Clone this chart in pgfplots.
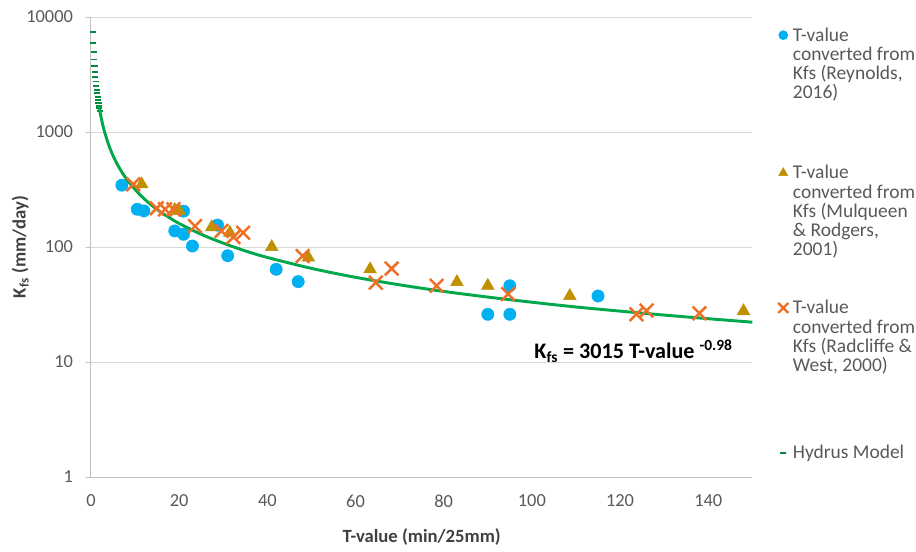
\documentclass[border=0pt]{standalone}
\usepackage{pgfplots}
\pgfplotsset{compat=1.18}
\usepackage{fontspec}
\setmainfont{Carlito}

\definecolor{reyblue}{RGB}{0,176,240}
\definecolor{mulgold}{RGB}{191,144,0}
\definecolor{radorange}{RGB}{237,112,40}
\definecolor{hydgreen}{RGB}{0,168,75}
\definecolor{hyddark}{RGB}{0,140,60}
\definecolor{gridgray}{RGB}{217,217,217}
\definecolor{axisgray}{RGB}{191,191,191}
\definecolor{ticktext}{RGB}{89,89,89}
\definecolor{labeltext}{RGB}{64,64,64}

% measured infiltration data (T-value in min/25mm, Kfs in mm/day)
\pgfplotstableread{
T     K
7     345
10.5  213
12    206
21    205
19    138
21    129
23    102
28.7  155
31    84
42    64
47    50
90    26
95    26
95    46
115   37.5
}\reynolds

\pgfplotstableread{
T     K
11.5  351
19    210
20    206
27.4  149
31.5  133
41    100
49.3  81
63.3  64
83    49.6
90    46
108.6 37.5
148   27.7
}\mulqueen

\pgfplotstableread{
T     K
9.6   351
14.9  217
16.8  213
18.7  213
23.6  152
29.6  138
32.3  122
34.5  133
48    83.5
64.6  49
68.2  65
78.4  46
94.6  39
123.7 26
126   28
138   26.5
}\radcliffe

% one legend row per text line; the last line of an entry carries the gap below it
\newcommand{\legline}[1]{\addlegendimage{empty legend}\addlegendentry{#1}}
\newcommand{\leglast}[2]{\addlegendimage{empty legend}\addlegendentry[text depth=#1]{#2}}

\begin{document}
\begin{tikzpicture}
\path[use as bounding box] (-68.25pt,-55.5pt) rectangle (618.75pt,357.75pt);
\begin{axis}[
  scale only axis,
  width=496pt, height=345pt,
  xmin=0, xmax=150, ymin=1, ymax=10000,
  ymode=log,
  xtick={0,20,...,140},
  ytick={1,10,100,1000,10000},
  yticklabels={1,10,100,1000,10000},
  yminorticks=false,
  axis x line*=bottom, axis y line*=left,
  axis line style={axisgray, line width=0.75pt, -},
  tick align=outside,
  xtick style={draw=none},
  ytick style={axisgray, line width=0.75pt},
  major tick length=4pt,
  ymajorgrids,
  grid style={gridgray, line width=0.75pt},
  /pgf/number format/assume math mode=true,
  tick label style={font=\fontsize{13.8}{15}\selectfont, text=ticktext},
  xticklabel style={yshift=-6pt},
  yticklabel style={xshift=-6pt},
  xlabel={T-value (min/25mm)},
  ylabel={K\textsubscript{fs} (mm/day)},
  label style={font=\bfseries\fontsize{14}{16}\selectfont, text=labeltext},
  xlabel style={at={(axis description cs:0.5,-0.13)}, anchor=center},
  ylabel style={at={(axis description cs:-0.107,0.5)}, anchor=center},
  clip mode=individual,
  legend style={
    at={(axis description cs:1,1)}, anchor=north west,
    xshift=19pt, yshift=-7.8pt,
    draw=none, fill=none, inner sep=0pt,
    row sep=0pt, column sep=3.5pt,
    font=\fontsize{14.6}{14.44}\selectfont,
    cells={anchor=base west},
    nodes={inner sep=0pt, text=ticktext, text height=10.11pt, text depth=4.33pt},
  },
  legend image code/.code={
    \draw[mark repeat=2, mark phase=2, yshift=4.5pt]
      plot coordinates {(0pt,0pt) (4pt,0pt) (8pt,0pt)};
  },
]

\addplot[only marks, mark=*, mark size=4.6pt, reyblue,
  legend image post style={mark size=3.4pt}]
  table[x=T, y=K] {\reynolds};
\addlegendentry{T-value}
\legline{converted from}
\legline{Kfs (Reynolds,}
\leglast{49.9pt}{2016)}

% Hydrus model curve: separate dashes near the origin, a solid band further on
\addplot[forget plot, only marks, mark=-, mark size=2.3pt, line width=1.3pt, hyddark]
  coordinates {
  (0.4,7401) (0.5,5947) (0.6,4974) (0.7,4277) (0.8,3752) (0.9,3343)
  (1.0,3015) (1.1,2746) (1.2,2522) (1.3,2331) (1.4,2168) (1.5,2026)
  (1.6,1902) (1.7,1792) (1.8,1695) (1.9,1607) (2.0,1529)
  };
\addplot[forget plot, no marks, smooth, hydgreen, line width=2.2pt]
  coordinates {
  (1.8,1695) (2,1529) (2.5,1228) (3,1027) (4,775) (5,623) (6,521)
  (7,448) (8,393) (10,316) (12,264) (14,227) (16,199) (18,178)
  (20,160) (25,129) (30,108) (35,92.5) (40,81.1) (50,65.2) (60,54.5)
  (70,46.9) (80,41.1) (90,36.7) (100,33.1) (110,30.1) (120,27.7)
  (130,25.6) (140,23.8) (150,22.2)
  };

\addplot[only marks, mark=triangle*, mark size=5.5pt, mulgold,
  legend image post style={mark size=3.9pt}]
  table[x=T, y=K] {\mulqueen};
\addlegendentry{T-value}
\legline{converted from}
\legline{Kfs (Mulqueen}
\legline{\& Rodgers,}
\leglast{33.4pt}{2001)}

\addplot[only marks, mark=x, mark size=7.2pt, radorange, line width=1.9pt,
  legend image post style={mark size=5.3pt, line width=1.8pt}]
  table[x=T, y=K] {\radcliffe};
\addlegendentry{T-value}
\legline{converted from}
\legline{Kfs (Radcliffe \&}
\leglast{55.1pt}{West, 2000)}

\addlegendimage{only marks, mark=-, mark size=2.3pt, line width=1.3pt, hyddark}
\addlegendentry{Hydrus Model}

\node[anchor=west, font=\bfseries\fontsize{16.6}{18}\selectfont, text=black]
  at (axis cs:99.5,12.5) {K\textsubscript{fs} = 3015 T-value \textsuperscript{-0.98}};
\end{axis}
\end{tikzpicture}
\end{document}
